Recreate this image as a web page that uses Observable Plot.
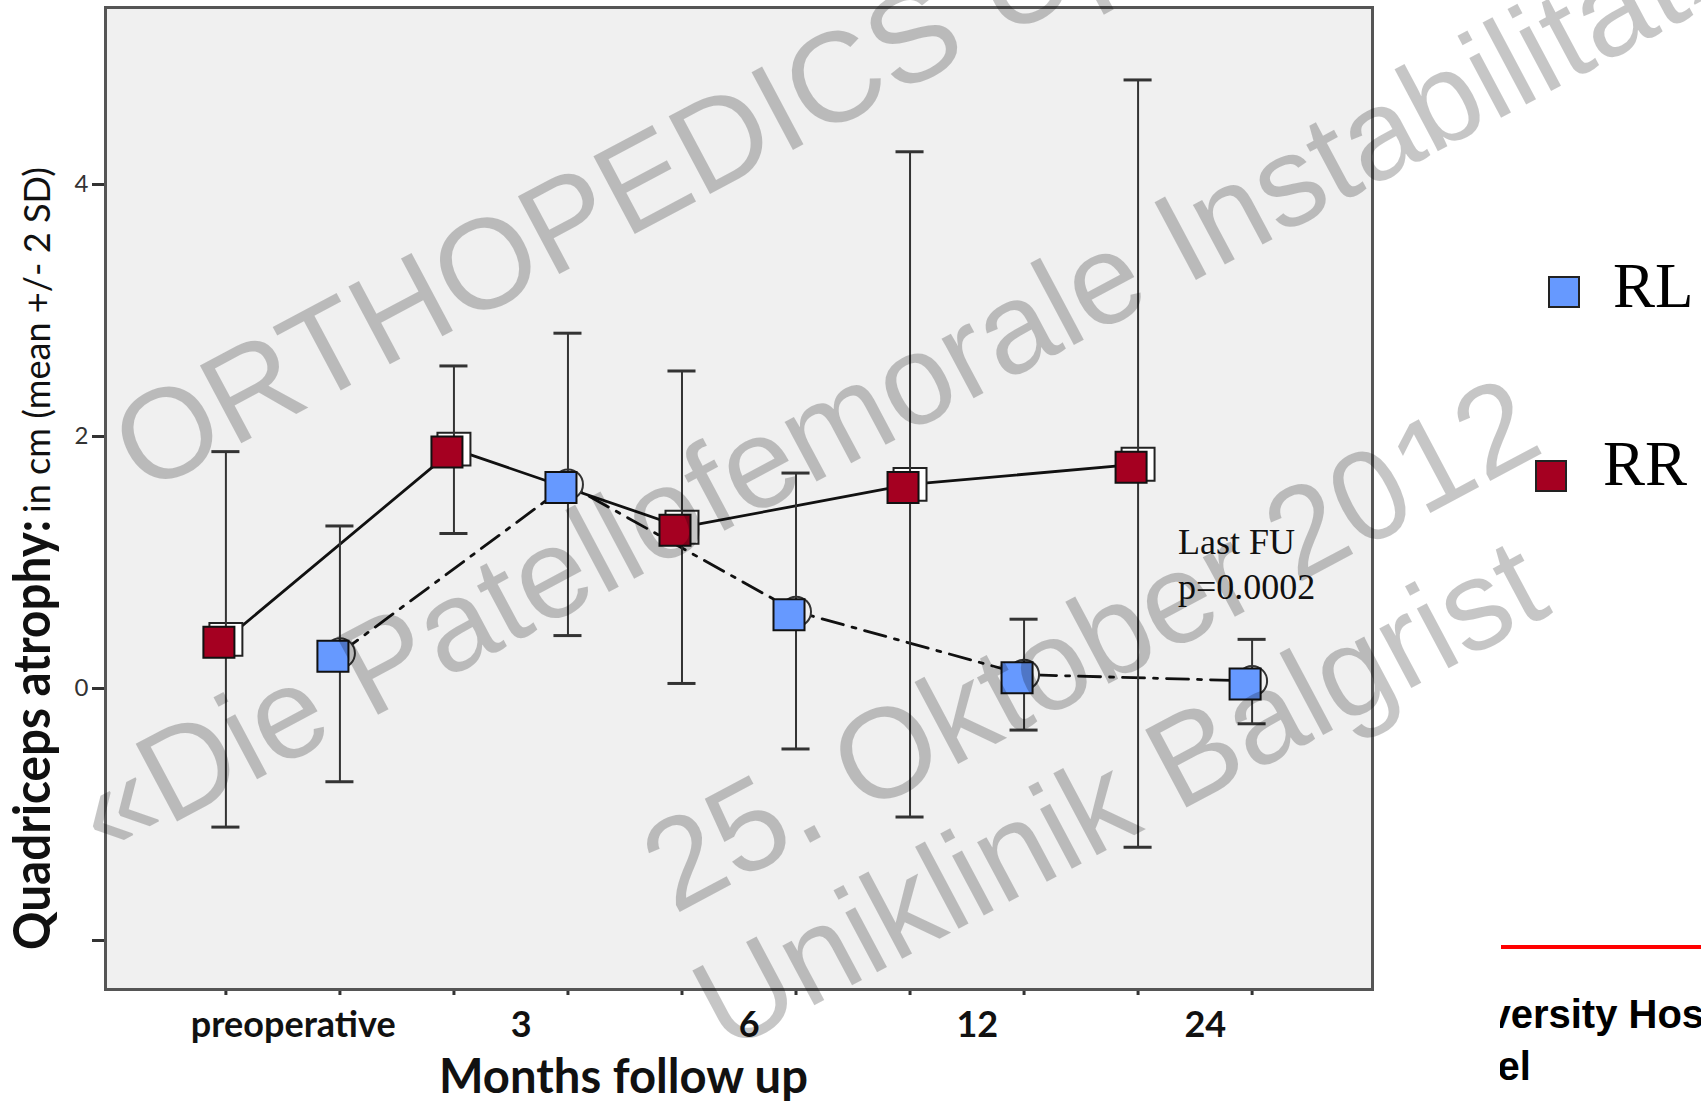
<!DOCTYPE html>
<html>
<head>
<meta charset="utf-8">
<script src="https://cdn.jsdelivr.net/npm/d3@7"></script>
<script src="https://cdn.jsdelivr.net/npm/@observablehq/plot@0.6"></script>
<style>
  html, body { margin: 0; padding: 0; background: #fff; }
  #wrap { position: relative; width: 1701px; height: 1105px; overflow: hidden; background: #fff; }
  #wrap > svg { position: absolute; left: 0; top: 0; }
</style>
</head>
<body>
<div id="wrap"></div>
<script>
// ---------------- data ----------------
const timepoints = ["preoperative", "3", "6", "12", "24"];
const groups = ["RR", "RL"];
// mean and mean +/- 2 SD (cm)
const rrMean  = [0.39, 1.90, 1.28, 1.62, 1.78];
const rrLower = [-1.10, 1.23, 0.04, -1.02, -1.26];
const rrUpper = [1.88, 2.56, 2.52, 4.26, 4.83];
const rlMean  = [0.28, 1.62, 0.61, 0.11, 0.06];
const rlLower = [-0.74, 0.42, -0.48, -0.33, -0.28];
const rlUpper = [1.29, 2.82, 1.71, 0.55, 0.39];
const yTicks = [-2, 0, 2, 4];
const yTickLabels = ["", "0", "2", "4"];
const groupColors = {RR: "#a50021", RL: "#6699ff"};

const yTitleMain = "Quadriceps atrophy:";
const yTitleSub = "in cm (mean +/- 2 SD)";
const xTitle = "Months follow up";
const noteLines = ["Last FU", "p=0.0002"];
const legendItems = ["RL", "RR"];
const footerLines = ["University Hospital", "Basel"];
const watermarkLines = ["ORTHOPEDICS Update", "«Die Patellofemorale Instabilität»", "25. Oktober 2012", "Uniklinik Balgrist"];

// ---------------- table ----------------
const rows = [];
timepoints.forEach((t, i) => {
  rows.push({time: t, group: "RR", pos: 2 * i, mean: rrMean[i], lo: rrLower[i], hi: rrUpper[i]});
  rows.push({time: t, group: "RL", pos: 2 * i + 1, mean: rlMean[i], lo: rlLower[i], hi: rlUpper[i]});
});
const rr = rows.filter(d => d.group === "RR");
const rl = rows.filter(d => d.group === "RL");
const labelPos = timepoints.map((t, i) => 2 * i + 0.59);
const capHalf = 0.123;

const chart = Plot.plot({
  width: 1701,
  height: 1105,
  marginLeft: 105,
  marginRight: 329,
  marginTop: 7,
  marginBottom: 116,
  style: {background: "transparent", overflow: "visible", fontFamily: "Lato"},
  x: {domain: [-1.056, 10.056]},
  y: {domain: [-2.389, 5.405]},
  marks: [
    Plot.frame({fill: "#f0f0f0"}),
    Plot.line(rr, {x: "pos", y: "mean", stroke: "#111", strokeWidth: 2.8}),
    Plot.line(rl, {x: "pos", y: "mean", stroke: "#111", strokeWidth: 2.8, strokeDasharray: "22,9,4,9"}),
    Plot.dot(rr, {x: "pos", y: "mean", symbol: "square", r: 18.6, fill: "white", stroke: "#222", strokeWidth: 2}),
    Plot.dot(rl, {x: "pos", y: "mean", symbol: "circle", r: 15, fill: "#f0f0f0", stroke: "#333", strokeWidth: 2}),
    Plot.ruleX(rows, {x: "pos", y1: "lo", y2: "hi", stroke: "#333", strokeWidth: 2}),
    Plot.ruleY(rows, {y: "lo", x1: d => d.pos - capHalf, x2: d => d.pos + capHalf, stroke: "#333", strokeWidth: 3}),
    Plot.ruleY(rows, {y: "hi", x1: d => d.pos - capHalf, x2: d => d.pos + capHalf, stroke: "#333", strokeWidth: 3}),
    Plot.dot(rr, {x: "pos", y: "mean", symbol: "square", r: 17.5, fill: groupColors.RR, stroke: "#111", strokeWidth: 2, dx: -7, dy: 3}),
    Plot.dot(rl, {x: "pos", y: "mean", symbol: "square", r: 17.5, fill: groupColors.RL, stroke: "#111", strokeWidth: 2, dx: -7, dy: 3}),
    Plot.axisY({ticks: yTicks, tickFormat: (d) => yTickLabels[yTicks.indexOf(d)], tickSize: 13, tickPadding: 4,
                strokeWidth: 3, color: "#333", fontSize: 24, label: null}),
    Plot.axisX({ticks: rows.map(d => d.pos), tickFormat: () => "", tickSize: 6, strokeWidth: 3, color: "#333", label: null}),
    Plot.axisX({ticks: labelPos, tickFormat: (d) => timepoints[labelPos.indexOf(d)], tickSize: 0, tickPadding: 22,
                fontSize: 36, fontWeight: "bold", color: "#111", label: null}),
    Plot.frame({stroke: "#555", strokeWidth: 3})
  ]
});

const wrap = document.getElementById("wrap");
wrap.appendChild(chart);

// ---------------- overlay: titles, note, legend, footer, watermark ----------------
const ov = d3.create("svg").attr("width", 1701).attr("height", 1105).attr("viewBox", "0 0 1701 1105")
  .style("pointer-events", "none");

ov.append("text").attr("transform", "translate(50,950) rotate(-90)")
  .attr("font-family", "Lato").attr("font-weight", 700).attr("font-size", 52)
  .attr("textLength", 430).attr("lengthAdjust", "spacingAndGlyphs").attr("fill", "#111").text(yTitleMain);
ov.append("text").attr("transform", "translate(50,513) rotate(-90)")
  .attr("font-family", "Lato").attr("font-size", 36)
  .attr("textLength", 346).attr("lengthAdjust", "spacingAndGlyphs").attr("fill", "#111").text(yTitleSub);
ov.append("text").attr("x", 439).attr("y", 1093)
  .attr("font-family", "Lato").attr("font-weight", 700).attr("font-size", 47)
  .attr("textLength", 369).attr("lengthAdjust", "spacingAndGlyphs").attr("fill", "#111").text(xTitle);

noteLines.forEach((t, i) => {
  ov.append("text").attr("x", 1178).attr("y", 554 + i * 45)
    .attr("font-family", "Liberation Serif, Times New Roman, serif").attr("font-size", 36).attr("fill", "#111").text(t);
});

const legendGeom = {RL: {sx: 1549, sy: 277, tx: 1613, ty: 307}, RR: {sx: 1536, sy: 461, tx: 1603, ty: 485}};
legendItems.forEach(k => {
  const g = legendGeom[k];
  ov.append("rect").attr("x", g.sx).attr("y", g.sy).attr("width", 30).attr("height", 30)
    .attr("fill", groupColors[k]).attr("stroke", "#222").attr("stroke-width", 2);
  ov.append("text").attr("x", g.tx).attr("y", g.ty)
    .attr("font-family", "Liberation Serif, Times New Roman, serif").attr("font-size", 63).attr("fill", "#000").text(k);
});

ov.append("line").attr("x1", 1501).attr("x2", 1701).attr("y1", 947).attr("y2", 947)
  .attr("stroke", "#ff0000").attr("stroke-width", 4);
const defs = ov.append("defs");
defs.append("clipPath").attr("id", "footclip").append("rect")
  .attr("x", 1500).attr("y", 960).attr("width", 201).attr("height", 145);
const foot = ov.append("g").attr("clip-path", "url(#footclip)");
footerLines.forEach((t, i) => {
  foot.append("text").attr("x", 1424).attr("y", 1028 + i * 52)
    .attr("font-family", "Liberation Sans, Arial, sans-serif").attr("font-weight", 700).attr("font-size", 40)
    .attr("fill", "#000").text(t);
});

const wmStarts = [[144, 495], [105, 860], [674, 915], [725, 1053]];
const wm = ov.append("g").attr("fill", "#000").attr("fill-opacity", 0.225)
  .attr("font-family", "Liberation Sans, Arial, sans-serif").attr("font-size", 128);
watermarkLines.forEach((t, i) => {
  const [x, y] = wmStarts[i];
  wm.append("text").attr("x", x).attr("y", y).attr("transform", `rotate(-28,${x},${y})`).text(t);
});

wrap.appendChild(ov.node());
</script>
</body>
</html>
